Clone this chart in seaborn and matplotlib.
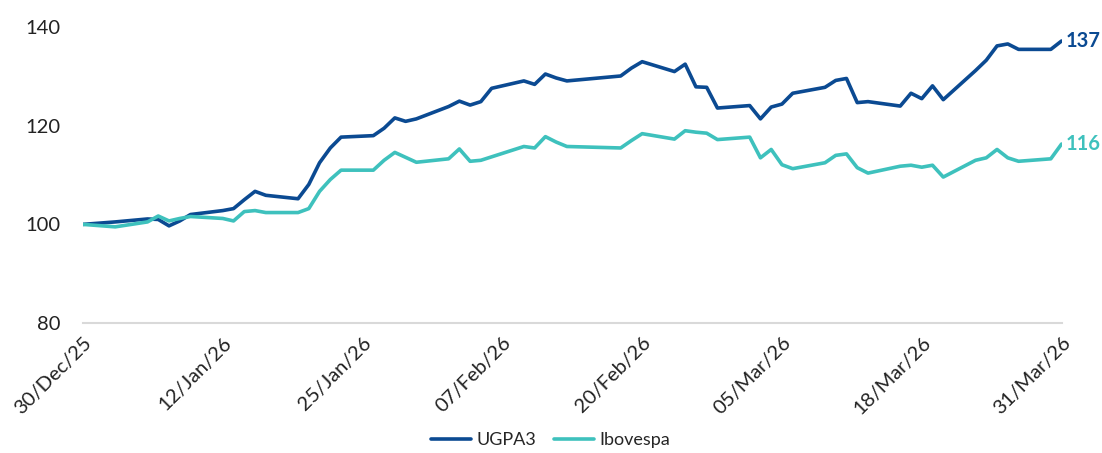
import pandas as pd
import numpy as np
import matplotlib
matplotlib.use("Agg")
import matplotlib.pyplot as plt
import matplotlib.dates as mdates
import seaborn as sns

# Trading days (days since 30/Dec/25)
day_offsets = [0, 3, 6, 7, 8, 9, 10, 13, 14, 15, 16, 17, 20, 21, 22, 23, 24,
               27, 28, 29, 30, 31, 34, 35, 36, 37, 38, 41, 42, 43, 44, 45,
               50, 51, 52, 55, 56, 57, 58, 59, 62, 63, 64, 65, 66, 69, 70,
               71, 72, 73, 76, 77, 78, 79, 80, 83, 84, 85, 86, 87, 90, 91]

ugpa3 = [100.0, 100.5, 101.1, 101.0, 99.7, 100.7, 102.0, 102.8, 103.2, 105.0,
         106.7, 105.9, 105.2, 108.1, 112.5, 115.5, 117.7, 118.0, 119.5, 121.6,
         120.9, 121.4, 123.9, 125.0, 124.2, 124.9, 127.6, 129.1, 128.4, 130.5,
         129.7, 129.1, 130.1, 131.7, 133.0, 131.0, 132.5, 127.9, 127.8, 123.6,
         124.1, 121.4, 123.8, 124.4, 126.6, 127.8, 129.2, 129.6, 124.7, 124.9,
         124.0, 126.6, 125.5, 128.1, 125.3, 131.2, 133.3, 136.2, 136.6, 135.5,
         135.5, 137.2]

ibovespa = [100.0, 99.5, 100.5, 101.7, 100.7, 101.2, 101.6, 101.2, 100.7, 102.6,
            102.8, 102.4, 102.4, 103.2, 106.7, 109.1, 111.0, 111.0, 113.0, 114.6,
            113.6, 112.6, 113.3, 115.3, 112.8, 113.0, 113.7, 115.8, 115.5, 117.8,
            116.7, 115.8, 115.5, 117.0, 118.4, 117.3, 119.0, 118.7, 118.5, 117.2,
            117.7, 113.5, 115.2, 112.1, 111.3, 112.5, 114.0, 114.3, 111.5, 110.4,
            111.8, 112.0, 111.6, 112.0, 109.6, 113.0, 113.5, 115.2, 113.5, 112.8,
            113.3, 116.3]

series_names = ["UGPA3", "Ibovespa"]
colors = ["#0b4a92", "#3ec1bd"]
tick_offsets = [0, 13, 26, 39, 52, 65, 78, 91]

start = pd.Timestamp("2025-12-30")
dates = [start + pd.Timedelta(days=d) for d in day_offsets]

df = pd.DataFrame({
    "date": dates * 2,
    "value": ugpa3 + ibovespa,
    "series": ["UGPA3"] * len(dates) + ["Ibovespa"] * len(dates),
})

sns.set_style("white")
plt.rcParams["font.family"] = ["Lato", "DejaVu Sans"]

fig = plt.figure(figsize=(11.02, 4.53), dpi=100)
ax = fig.add_axes([0.0753, 0.287, 0.888, 0.653])

sns.lineplot(data=df, x="date", y="value", hue="series", hue_order=series_names,
             palette=colors, linewidth=2.6, ax=ax)

ax.set_xlim(start, start + pd.Timedelta(days=91))
ax.set_ylim(80, 140)
ax.set_yticks([80, 100, 120, 140])
ax.set_xticks([start + pd.Timedelta(days=d) for d in tick_offsets])
ax.xaxis.set_major_formatter(mdates.DateFormatter("%d/%b/%y"))
plt.setp(ax.get_xticklabels(), rotation=45, ha="right", rotation_mode="anchor")
ax.tick_params(axis="both", length=0, labelsize=14.5, colors="#222222")
ax.tick_params(axis="x", pad=8)
ax.tick_params(axis="y", pad=16)
ax.set_xlabel("")
ax.set_ylabel("")

for side in ["top", "right", "left"]:
    ax.spines[side].set_visible(False)
ax.spines["bottom"].set_color("#d9d9d9")
ax.spines["bottom"].set_linewidth(1.5)

# end labels
for vals, col in zip([ugpa3, ibovespa], colors):
    ax.annotate(f"{vals[-1]:.0f}", xy=(dates[-1], vals[-1]), xytext=(3, 0),
                textcoords="offset points", va="center", ha="left",
                color=col, fontsize=14.5, fontweight="bold", annotation_clip=False)

ax.legend(loc="center", bbox_to_anchor=(0.478, -0.395), ncol=2, frameon=False,
          fontsize=13, handlelength=2.2, columnspacing=1.0, handletextpad=0.3)

fig.savefig("out.png", dpi=100)
